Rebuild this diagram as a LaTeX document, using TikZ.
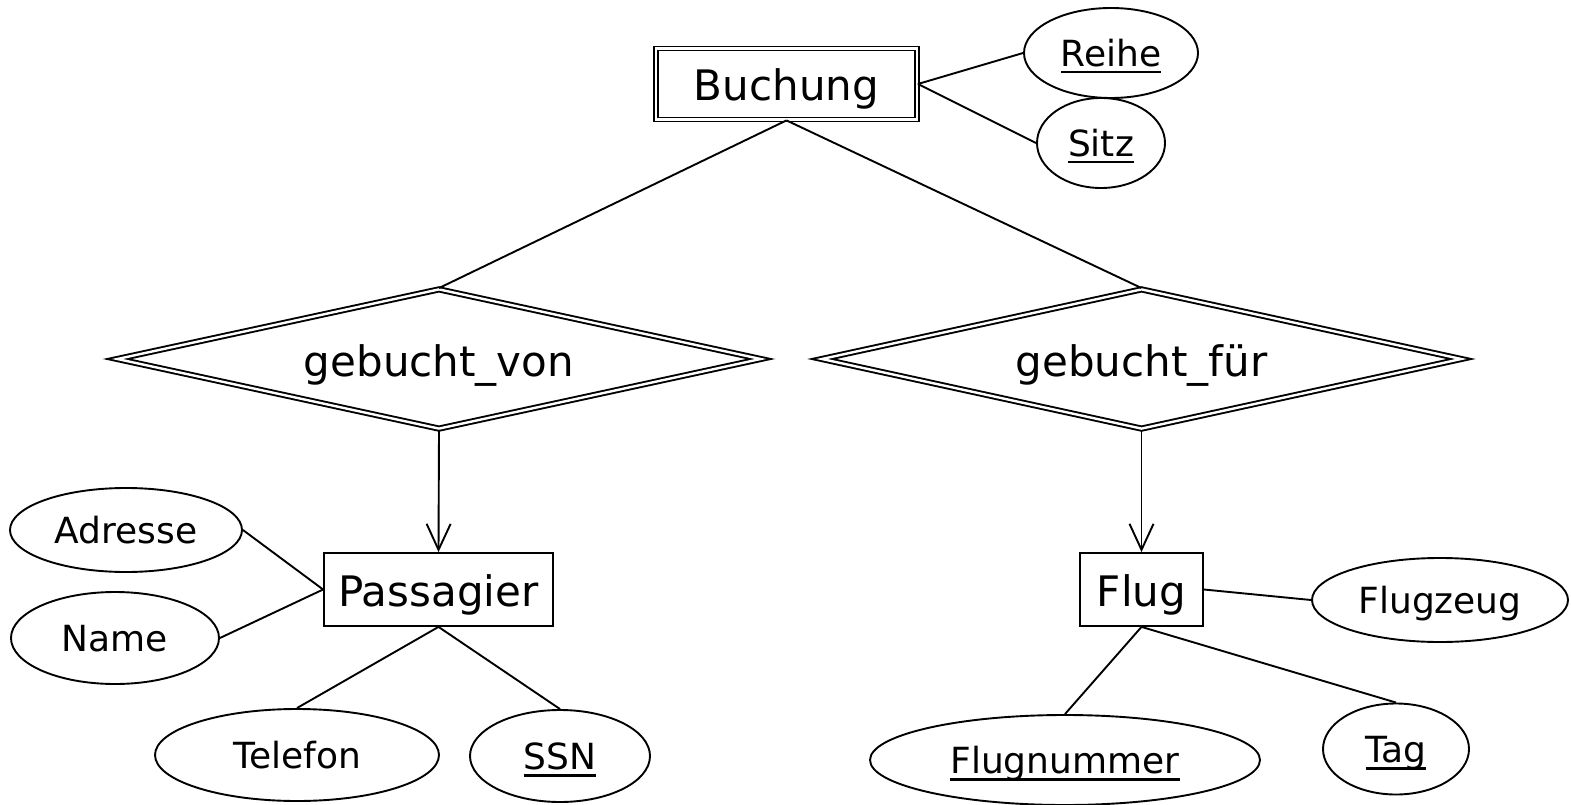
\documentclass[tikz,border=0pt]{standalone}
\usepackage{fontspec}
\setmainfont{DejaVu Sans}
\usetikzlibrary{shapes.geometric,arrows.meta}

% underline at a fixed depth below the baseline (key attributes)
\newcommand{\keyattr}[1]{\setbox0\hbox{#1}\rlap{\rule[-7pt]{\wd0}{2.4pt}}\box0}

\tikzset{
  entity/.style={draw, rectangle, line width=1.8pt, inner sep=0pt,
    text height=34pt, text depth=0pt, font=\fontsize{42}{48}\selectfont},
  weakentity/.style={entity, double, double distance=2.2pt, line width=1.8pt},
  weakrel/.style={draw, diamond, double, double distance=2.4pt, line width=1.9pt,
    inner sep=0pt, shape aspect=4.6, text height=35pt, text depth=0pt,
    font=\fontsize{42}{48}\selectfont},
  attr/.style={draw, ellipse, line width=1.9pt, inner sep=0pt,
    text height=27pt, text depth=0pt, font=\fontsize{36}{42}\selectfont},
  link/.style={line width=1.9pt},
  tomany/.style={line width=1.9pt, -{Straight Barb[length=26pt,width=24pt,line width=1.9pt]}}
}

\begin{document}
\begin{tikzpicture}[x=1pt,y=-1pt]
\useasboundingbox (0,0) rectangle (1571,805);

% entities
\node[weakentity, minimum width=261pt, minimum height=71pt] (buchung) at (786.5,84) {Buchung};
\node[entity, minimum width=229pt, minimum height=73pt] (passagier) at (438.5,589.5) {Passagier};
\node[entity, minimum width=123pt, minimum height=73pt] (flug) at (1141.5,589.5) {Flug};

% identifying relationships
\node[weakrel, minimum width=644pt, minimum height=140pt] (gvon) at (439,359) {gebucht\_von};
\node[weakrel, minimum width=640pt, minimum height=140pt] (gfuer) at (1141.5,359) {gebucht\_für};

% attributes
\node[attr, minimum width=174pt, minimum height=90pt] (reihe) at (1111,53) {\keyattr{Reihe}};
\node[attr, minimum width=128pt, minimum height=90pt] (sitz) at (1101,143) {\keyattr{Sitz}};
\node[attr, minimum width=232pt, minimum height=84pt] (adresse) at (126,530) {Adresse};
\node[attr, minimum width=208pt, minimum height=92pt] (name) at (115,638) {Name};
\node[attr, minimum width=284pt, minimum height=92pt] (telefon) at (297,755) {Telefon};
\node[attr, minimum width=180pt, minimum height=92pt] (ssn) at (560,756) {\keyattr{SSN}};
\node[attr, minimum width=256pt, minimum height=84pt] (flugzeug) at (1440,600) {Flugzeug};
\node[attr, minimum width=390pt, minimum height=90pt] (flugnummer) at (1065,760) {\keyattr{Flugnummer}};
\node[attr, minimum width=146pt, minimum height=91pt] (tag) at (1396,749) {\keyattr{Tag}};

% connectors
\draw[link] (buchung.south) -- (gvon.north);
\draw[link] (buchung.south) -- (gfuer.north);
\draw[link] (buchung.east) -- (reihe.west);
\draw[link] (buchung.east) -- (sitz.west);
\draw[tomany] (gvon.south) -- (passagier.north);
\draw[tomany] (gfuer.south) -- (flug.north);
\draw[link] (adresse.east) -- (passagier.west);
\draw[link] (name.east) -- (passagier.west);
\draw[link] (passagier.south) -- (telefon.north);
\draw[link] (passagier.south) -- (ssn.north);
\draw[link] (flug.east) -- (flugzeug.west);
\draw[link] (flug.south) -- (flugnummer.north);
\draw[link] (flug.south) -- (tag.north);
\end{tikzpicture}
\end{document}
